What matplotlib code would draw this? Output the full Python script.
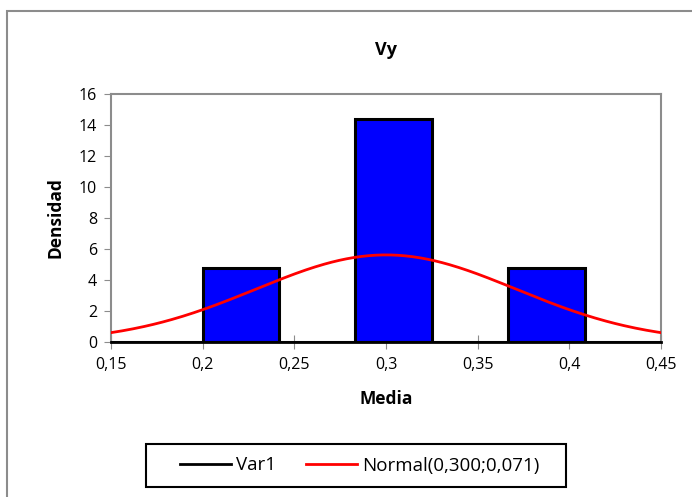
import numpy as np
import matplotlib.pyplot as plt
from matplotlib.patches import Rectangle

plt.rcParams['font.family'] = ['Open Sans', 'DejaVu Sans']

# histogram of the sample means (density scale)
bin_edges = [0.2, 0.24167, 0.28333, 0.325, 0.36667, 0.40833]
densidad = [4.8, 0.0, 14.4, 0.0, 4.8]

# fitted normal
mu, sigma = 0.300, 0.071

xticks = [0.15, 0.2, 0.25, 0.3, 0.35, 0.4, 0.45]
yticks = [0, 2, 4, 6, 8, 10, 12, 14, 16]

W, H = 692, 497
fig = plt.figure(figsize=(W / 100, H / 100), dpi=100)
# outer chart frame
fig.patches.append(Rectangle((7 / W, -0.1), 1.2, 1 - 11 / H + 0.1,
                             transform=fig.transFigure, fill=False,
                             edgecolor='#8c8c8c', linewidth=1.5))
# legend box
fig.patches.append(Rectangle((146 / W, 1 - 487 / H), 420 / W, 43 / H,
                             transform=fig.transFigure, fill=False,
                             edgecolor='black', linewidth=1.5))

ax = fig.add_axes([111 / W, 1 - 342 / H, 550 / W, 248 / H])

lefts = bin_edges[:-1]
widths = np.diff(bin_edges)
for x0, w, h in zip(lefts, widths, densidad):
    if h > 0:
        ax.bar(x0, h, width=w, align='edge', color='#0000ff',
               edgecolor='black', linewidth=2.2, zorder=2)

xs = np.linspace(0.15, 0.45, 300)
pdf = np.exp(-0.5 * ((xs - mu) / sigma) ** 2) / (sigma * np.sqrt(2 * np.pi))

ax.plot([0.15, 0.45], [0, 0], color='black', linewidth=2.2, zorder=3, label='Var1')
ax.plot(xs, pdf, color='#ff0000', linewidth=2, zorder=4,
        label='Normal(0,300;0,071)')

ax.set_xlim(0.15, 0.45)
ax.set_ylim(0, 16)
ax.set_xticks(xticks)
ax.set_xticklabels([f'{t:g}'.replace('.', ',') for t in xticks])
ax.set_yticks(yticks)
ax.tick_params(axis='y', direction='out', length=5, color='#8c8c8c',
               labelsize=11.5, pad=5)
ax.tick_params(axis='x', direction='inout', length=10, color='#8c8c8c',
               labelsize=11.5, pad=6)

for side in ['left', 'top', 'right']:
    ax.spines[side].set_color('#8c8c8c')
    ax.spines[side].set_linewidth(1.5)
ax.spines['bottom'].set_color('black')
ax.spines['bottom'].set_linewidth(2)

fig.text(386 / W, 1 - 50 / H, 'Vy', ha='center', va='center',
         fontsize=13, fontweight='bold')
fig.text(386 / W, 1 - 399 / H, 'Media', ha='center', va='center',
         fontsize=12.5, fontweight='bold')
fig.text(55 / W, 1 - 218 / H, 'Densidad', ha='center', va='center',
         rotation=90, fontsize=12.5, fontweight='bold')

leg = fig.legend(loc='center', bbox_to_anchor=(360 / W, 1 - 465.5 / H),
                 ncol=2, fontsize=13.5, frameon=False,
                 handlelength=2.7, handletextpad=0.3, columnspacing=1.6,
                 borderpad=0, borderaxespad=0)
for line in leg.get_lines():
    line.set_linewidth(2)

fig.savefig('out.png', dpi=100)
